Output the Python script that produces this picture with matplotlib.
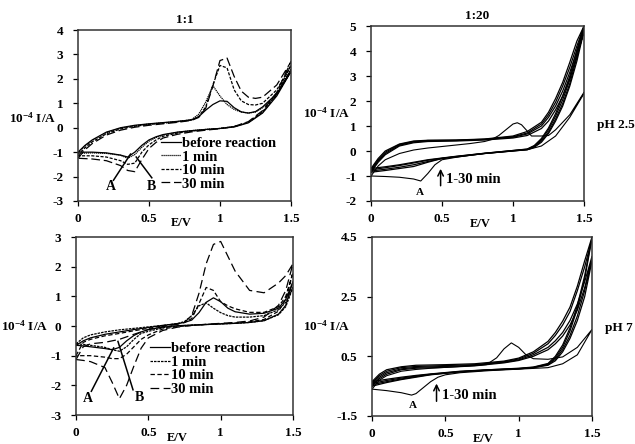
import numpy as np
import matplotlib.pyplot as plt

plt.rcParams['font.family'] = ['Liberation Serif', 'DejaVu Serif']
plt.rcParams['font.weight'] = 'bold'
plt.rcParams['mathtext.fontset'] = 'custom'
plt.rcParams['mathtext.rm'] = 'Liberation Serif:bold'
plt.rcParams['mathtext.default'] = 'rm'

labels_11 = ['before reaction', '1 min', '10 min', '30 min']

# ---- 1:1, pH 2.5 ----
tl_fwd_E = [0, 0.05, 0.1, 0.2, 0.3, 0.4, 0.5, 0.6, 0.7, 0.8, 0.85, 0.9, 0.95, 1.0, 1.05, 1.1, 1.15, 1.2, 1.25, 1.3, 1.4, 1.5]
tl_fwd = [
    [-1.0, -0.72, -0.5, -0.18, 0.0, 0.1, 0.16, 0.21, 0.26, 0.32, 0.45, 0.72, 0.95, 1.1, 1.08, 0.82, 0.65, 0.6, 0.66, 0.85, 1.4, 2.3],
    [-1.05, -0.75, -0.52, -0.2, -0.02, 0.08, 0.15, 0.2, 0.25, 0.33, 0.55, 1.05, 1.72, 1.3, 0.95, 0.75, 0.64, 0.6, 0.64, 0.82, 1.35, 2.4],
    [-1.15, -0.82, -0.58, -0.25, -0.05, 0.06, 0.13, 0.19, 0.24, 0.32, 0.45, 0.85, 1.75, 2.55, 2.45, 1.55, 1.1, 0.95, 0.93, 1.0, 1.55, 2.55],
    [-1.25, -0.9, -0.65, -0.3, -0.1, 0.02, 0.1, 0.16, 0.22, 0.3, 0.42, 0.8, 1.7, 2.75, 2.85, 2.1, 1.5, 1.25, 1.2, 1.25, 1.75, 2.7],
]
tl_rev_E = [1.5, 1.4, 1.3, 1.2, 1.1, 1.0, 0.9, 0.8, 0.7, 0.6, 0.55, 0.5, 0.45, 0.4, 0.35, 0.3, 0.2, 0.1, 0]
tl_rev = [
    [2.3, 1.3, 0.6, 0.2, 0.03, -0.03, -0.07, -0.12, -0.18, -0.28, -0.37, -0.5, -0.72, -1.0, -1.2, -1.12, -1.03, -1.0, -1.0],
    [2.4, 1.35, 0.62, 0.22, 0.04, -0.03, -0.07, -0.12, -0.19, -0.3, -0.4, -0.55, -0.8, -1.1, -1.25, -1.13, -1.05, -1.03, -1.05],
    [2.55, 1.4, 0.65, 0.23, 0.05, -0.03, -0.08, -0.14, -0.22, -0.35, -0.5, -0.7, -1.0, -1.45, -1.5, -1.35, -1.2, -1.15, -1.15],
    [2.7, 1.45, 0.7, 0.25, 0.05, -0.04, -0.1, -0.17, -0.27, -0.42, -0.6, -0.85, -1.3, -1.8, -1.75, -1.55, -1.35, -1.28, -1.25],
]

# ---- 1:20, pH 2.5 ----
tr_before_fwd_E = [0, 0.05, 0.1, 0.2, 0.3, 0.4, 0.5, 0.6, 0.7, 0.8, 0.85, 0.9, 0.95, 1.0, 1.03, 1.06, 1.1, 1.13, 1.2, 1.25, 1.3, 1.4, 1.5]
tr_before_fwd = [-1.0, -0.6, -0.35, -0.1, 0.04, 0.12, 0.18, 0.24, 0.3, 0.38, 0.46, 0.62, 0.85, 1.08, 1.13, 1.05, 0.8, 0.6, 0.6, 0.62, 0.85, 1.45, 2.35]
tr_before_rev_E = [1.5, 1.4, 1.3, 1.2, 1.1, 1.0, 0.9, 0.8, 0.7, 0.6, 0.5, 0.45, 0.4, 0.35, 0.3, 0.2, 0.1, 0]
tr_before_rev = [2.3, 1.35, 0.6, 0.2, 0.05, 0.0, -0.05, -0.1, -0.17, -0.25, -0.35, -0.55, -0.9, -1.2, -1.12, -1.05, -1.02, -1.0]

tr_fwd_E = [0, 0.05, 0.1, 0.2, 0.3, 0.4, 0.6, 0.8, 1.0, 1.1, 1.2, 1.25, 1.3, 1.35, 1.4, 1.45, 1.5]
tr_fwd = [
    [-0.85, -0.45, -0.15, 0.2, 0.33, 0.38, 0.4, 0.44, 0.52, 0.62, 0.9, 1.2, 1.65, 2.2, 2.9, 3.8, 4.8],
    [-0.8, -0.4, -0.1, 0.23, 0.36, 0.4, 0.42, 0.46, 0.55, 0.68, 1.0, 1.35, 1.8, 2.4, 3.15, 4.0, 4.9],
    [-0.75, -0.35, -0.05, 0.26, 0.38, 0.42, 0.43, 0.47, 0.57, 0.72, 1.08, 1.45, 1.95, 2.6, 3.35, 4.2, 5.0],
    [-0.7, -0.3, 0.0, 0.28, 0.4, 0.43, 0.44, 0.48, 0.6, 0.78, 1.15, 1.55, 2.1, 2.75, 3.55, 4.4, 5.0],
]
tr_rev_E = [1.5, 1.45, 1.4, 1.35, 1.3, 1.25, 1.2, 1.15, 1.1, 1.0, 0.8, 0.6, 0.5, 0.4, 0.3, 0.2, 0.1, 0]
tr_rev = [
    [4.8, 3.6, 2.6, 1.8, 1.2, 0.7, 0.35, 0.15, 0.05, 0.0, -0.1, -0.24, -0.3, -0.45, -0.62, -0.7, -0.78, -0.85],
    [4.9, 3.75, 2.7, 1.9, 1.28, 0.76, 0.4, 0.17, 0.06, 0.01, -0.1, -0.23, -0.3, -0.42, -0.55, -0.65, -0.73, -0.8],
    [5.0, 3.9, 2.85, 2.05, 1.4, 0.85, 0.45, 0.2, 0.07, 0.02, -0.09, -0.22, -0.29, -0.37, -0.48, -0.58, -0.67, -0.75],
    [5.0, 4.05, 3.0, 2.2, 1.5, 0.92, 0.5, 0.22, 0.08, 0.02, -0.09, -0.21, -0.28, -0.35, -0.45, -0.55, -0.63, -0.7],
]

# ---- 1:1, pH 7 ----
bl_fwd_E = [0, 0.05, 0.1, 0.2, 0.3, 0.4, 0.5, 0.6, 0.7, 0.75, 0.8, 0.85, 0.9, 0.95, 1.0, 1.05, 1.1, 1.2, 1.3, 1.4, 1.45, 1.5]
bl_fwd = [
    [-0.65, -0.5, -0.4, -0.28, -0.2, -0.12, -0.05, 0.02, 0.08, 0.12, 0.2, 0.45, 0.8, 0.95, 0.82, 0.6, 0.48, 0.4, 0.43, 0.6, 0.9, 1.5],
    [-0.6, -0.4, -0.3, -0.2, -0.13, -0.08, -0.03, 0.02, 0.08, 0.15, 0.35, 0.68, 0.78, 0.6, 0.45, 0.35, 0.3, 0.3, 0.35, 0.55, 0.8, 1.3],
    [-1.0, -0.55, -0.45, -0.33, -0.25, -0.16, -0.08, 0.0, 0.07, 0.12, 0.25, 0.75, 1.3, 1.2, 0.82, 0.68, 0.58, 0.46, 0.46, 0.65, 1.0, 1.8],
    [-1.13, -0.7, -0.6, -0.55, -0.45, -0.28, -0.12, -0.02, 0.06, 0.12, 0.35, 1.1, 2.1, 2.75, 2.85, 2.35, 1.85, 1.2, 1.12, 1.45, 1.7, 2.1],
]
bl_rev_E = [1.5, 1.45, 1.4, 1.3, 1.2, 1.1, 1.0, 0.9, 0.8, 0.7, 0.6, 0.5, 0.45, 0.4, 0.35, 0.3, 0.25, 0.2, 0.1, 0.05, 0]
bl_rev = [
    [1.5, 0.7, 0.4, 0.18, 0.12, 0.09, 0.07, 0.05, 0.03, 0.01, -0.04, -0.12, -0.2, -0.32, -0.5, -0.72, -0.8, -0.76, -0.7, -0.67, -0.65],
    [1.3, 0.65, 0.38, 0.18, 0.12, 0.09, 0.07, 0.05, 0.03, 0.0, -0.06, -0.18, -0.25, -0.45, -0.7, -0.85, -0.8, -0.72, -0.65, -0.62, -0.6],
    [1.8, 0.9, 0.5, 0.22, 0.14, 0.1, 0.08, 0.05, 0.02, -0.02, -0.1, -0.3, -0.45, -0.7, -0.95, -1.1, -1.1, -1.05, -1.0, -1.0, -1.0],
    [2.1, 1.2, 0.7, 0.3, 0.17, 0.12, 0.09, 0.06, 0.02, -0.04, -0.15, -0.4, -0.75, -1.35, -2.0, -2.45, -1.9, -1.4, -1.2, -1.16, -1.13],
]

# ---- 1:20, pH 7 ----
br_before_fwd_E = [0, 0.05, 0.1, 0.2, 0.3, 0.4, 0.5, 0.6, 0.7, 0.78, 0.85, 0.9, 0.95, 1.0, 1.05, 1.1, 1.2, 1.3, 1.4, 1.5]
br_before_fwd = [-0.6, -0.3, -0.15, 0.0, 0.06, 0.1, 0.13, 0.16, 0.19, 0.22, 0.45, 0.75, 0.95, 0.8, 0.55, 0.42, 0.4, 0.48, 0.8, 1.4]
br_before_rev_E = [1.5, 1.4, 1.3, 1.2, 1.0, 0.8, 0.6, 0.5, 0.45, 0.4, 0.35, 0.3, 0.27, 0.2, 0.1, 0]
br_before_rev = [1.4, 0.55, 0.25, 0.12, 0.07, 0.02, -0.05, -0.12, -0.2, -0.35, -0.55, -0.75, -0.8, -0.72, -0.65, -0.6]

br_fwd_E = [0, 0.05, 0.1, 0.2, 0.3, 0.5, 0.7, 0.9, 1.0, 1.1, 1.2, 1.25, 1.3, 1.35, 1.4, 1.45, 1.5]
br_fwd = [
    [-0.5, -0.25, -0.1, 0.05, 0.1, 0.13, 0.18, 0.28, 0.36, 0.5, 0.72, 0.92, 1.18, 1.55, 2.05, 2.8, 3.7],
    [-0.45, -0.2, -0.05, 0.08, 0.13, 0.16, 0.2, 0.3, 0.38, 0.55, 0.8, 1.02, 1.3, 1.7, 2.25, 3.0, 3.85],
    [-0.4, -0.15, 0.0, 0.12, 0.16, 0.19, 0.22, 0.32, 0.41, 0.6, 0.92, 1.2, 1.55, 2.0, 2.7, 3.5, 4.45],
    [-0.35, -0.1, 0.05, 0.15, 0.2, 0.22, 0.25, 0.34, 0.44, 0.65, 1.0, 1.3, 1.68, 2.15, 2.85, 3.7, 4.5],
]
br_rev_E = [1.5, 1.45, 1.4, 1.35, 1.3, 1.25, 1.2, 1.1, 1.0, 0.8, 0.6, 0.4, 0.3, 0.2, 0.1, 0.05, 0]
br_rev = [
    [3.7, 2.5, 1.7, 1.1, 0.65, 0.35, 0.2, 0.12, 0.08, 0.04, -0.02, -0.12, -0.2, -0.28, -0.38, -0.44, -0.5],
    [3.85, 2.7, 1.85, 1.2, 0.72, 0.4, 0.22, 0.12, 0.08, 0.04, -0.02, -0.11, -0.18, -0.26, -0.35, -0.4, -0.45],
    [4.45, 3.1, 2.1, 1.35, 0.8, 0.45, 0.24, 0.13, 0.09, 0.05, -0.01, -0.1, -0.16, -0.23, -0.31, -0.36, -0.4],
    [4.5, 3.2, 2.2, 1.45, 0.88, 0.5, 0.26, 0.14, 0.1, 0.05, 0.0, -0.09, -0.14, -0.2, -0.27, -0.31, -0.35],
]

x_ticks = [0, 0.5, 1, 1.5]
x_ticklabels = ['0', '0.5', '1', '1.5']

# line styles of the four time points (pH 2.5 and pH 7 panels differ a bit)
styles_25 = ['-', (0, (1, 0.6)), (0, (2.5, 1.2)), (0, (7, 3))]
styles_7 = ['-', (0, (2, 0.8)), (0, (3.5, 2)), (0, (7, 3.5))]

ylab = '10$^{-4}$ I/A'


def style_axes(ax, ylim, yticks, ex):
    ax.set_xlim(0, 1.5)
    ax.set_ylim(*ylim)
    ax.set_xticks(x_ticks)
    ax.set_xticklabels(x_ticklabels, fontweight='bold', fontsize=9.5)
    ax.set_yticks(yticks)
    ax.set_yticklabels([f'{t:g}' for t in yticks], fontweight='bold', fontsize=9.5)
    ax.tick_params(direction='out', length=3.5, width=0.9)
    ax.tick_params(axis='x', pad=5)
    ax.tick_params(axis='y', pad=7)
    for s in ax.spines.values():
        s.set_linewidth(1.1)
        s.set_color('#333333')
    ax.text(ex, -0.13, 'E/V', transform=ax.get_xaxis_transform(),
            ha='center', va='center', fontsize=9, fontweight='bold')


def draw_loop(ax, fE, fI, rE, rI, ls='-', lw=0.9, label=None):
    E = list(fE) + list(rE)
    I = list(fI) + list(rI)
    ax.plot(E, I, color='black', ls=ls, lw=lw, label=label)


fig = plt.figure(figsize=(6.35, 4.44), dpi=100)
ax_tl = fig.add_axes([0.1228, 0.5473, 0.3354, 0.3851])
ax_tr = fig.add_axes([0.5843, 0.5473, 0.3354, 0.3941])
ax_bl = fig.add_axes([0.1197, 0.0653, 0.3417, 0.4009])
ax_br = fig.add_axes([0.5858, 0.0631, 0.3465, 0.4032])

leg_kw = dict(loc='upper left', frameon=False, handlelength=1.4, handletextpad=0.05,
              labelspacing=0.02, borderpad=0, borderaxespad=0,
              prop={'size': 10.5, 'weight': 'bold'})

# 1:1, pH 2.5
for i in range(4):
    draw_loop(ax_tl, tl_fwd_E, tl_fwd[i], tl_rev_E, tl_rev[i], ls=styles_25[i], label=labels_11[i])
style_axes(ax_tl, (-3, 4), list(range(-3, 5)), 0.73)
ax_tl.set_title('1:1', fontsize=9.5, fontweight='bold', pad=5)
ax_tl.text(-0.1, 0.4, ylab, transform=ax_tl.get_yaxis_transform(), ha='right', va='center', fontsize=9.5)
ax_tl.plot([0.25, 0.37], [-2.15, -1.08], color='black', lw=1.1)
ax_tl.plot([0.52, 0.41], [-2.05, -1.2], color='black', lw=1.1)
ax_tl.text(0.23, -2.42, 'A', ha='center', va='center', fontsize=10)
ax_tl.text(0.52, -2.42, 'B', ha='center', va='center', fontsize=10)
ax_tl.legend(bbox_to_anchor=(0.39, 0.375), **leg_kw)

# 1:20, pH 2.5
draw_loop(ax_tr, tr_before_fwd_E, tr_before_fwd, tr_before_rev_E, tr_before_rev, lw=0.8)
for i in range(4):
    draw_loop(ax_tr, tr_fwd_E, tr_fwd[i], tr_rev_E, tr_rev[i], lw=0.9)
style_axes(ax_tr, (-2, 5), list(range(-2, 6)), 0.77)
ax_tr.set_title('1:20', fontsize=9.5, fontweight='bold', pad=5)
ax_tr.text(-0.1, 1.5, ylab, transform=ax_tr.get_yaxis_transform(), ha='right', va='center', fontsize=9.5)
ax_tr.text(1.06, 1.05, 'pH 2.5', transform=ax_tr.get_yaxis_transform(), ha='left', va='center', fontsize=9.5)
ax_tr.annotate('', xy=(0.49, -0.6), xytext=(0.49, -1.5),
               arrowprops=dict(arrowstyle='->', color='black', lw=1.1))
ax_tr.text(0.53, -1.15, '1-30 min', ha='left', va='center', fontsize=10.5)
ax_tr.text(0.345, -1.68, 'A', ha='center', va='center', fontsize=8)

# 1:1, pH 7
for i in range(4):
    draw_loop(ax_bl, bl_fwd_E, bl_fwd[i], bl_rev_E, bl_rev[i], ls=styles_7[i], label=labels_11[i])
style_axes(ax_bl, (-3, 3), list(range(-3, 4)), 0.70)
ax_bl.text(-0.13, 0, ylab, transform=ax_bl.get_yaxis_transform(), ha='right', va='center', fontsize=9.5)
ax_bl.plot([0.106, 0.26], [-2.2, -0.74], color='black', lw=1.1)
ax_bl.plot([0.394, 0.29], [-2.15, -0.52], color='black', lw=1.1)
ax_bl.text(0.08, -2.45, 'A', ha='center', va='center', fontsize=10)
ax_bl.text(0.44, -2.4, 'B', ha='center', va='center', fontsize=10)
ax_bl.legend(bbox_to_anchor=(0.34, 0.41), **leg_kw)

# 1:20, pH 7
draw_loop(ax_br, br_before_fwd_E, br_before_fwd, br_before_rev_E, br_before_rev, lw=0.8)
for i in range(4):
    draw_loop(ax_br, br_fwd_E, br_fwd[i], br_rev_E, br_rev[i], lw=0.9)
style_axes(ax_br, (-1.5, 4.5), [-1.5, 0.5, 2.5, 4.5], 0.76)
ax_br.text(-0.1, 1.5, ylab, transform=ax_br.get_yaxis_transform(), ha='right', va='center', fontsize=9.5)
ax_br.text(1.06, 1.45, 'pH 7', transform=ax_br.get_yaxis_transform(), ha='left', va='center', fontsize=9.5)
ax_br.annotate('', xy=(0.44, -0.32), xytext=(0.44, -1.1),
               arrowprops=dict(arrowstyle='->', color='black', lw=1.1))
ax_br.text(0.48, -0.8, '1-30 min', ha='left', va='center', fontsize=10.5)
ax_br.text(0.28, -1.14, 'A', ha='center', va='center', fontsize=8)

fig.savefig('out.png', dpi=100)
